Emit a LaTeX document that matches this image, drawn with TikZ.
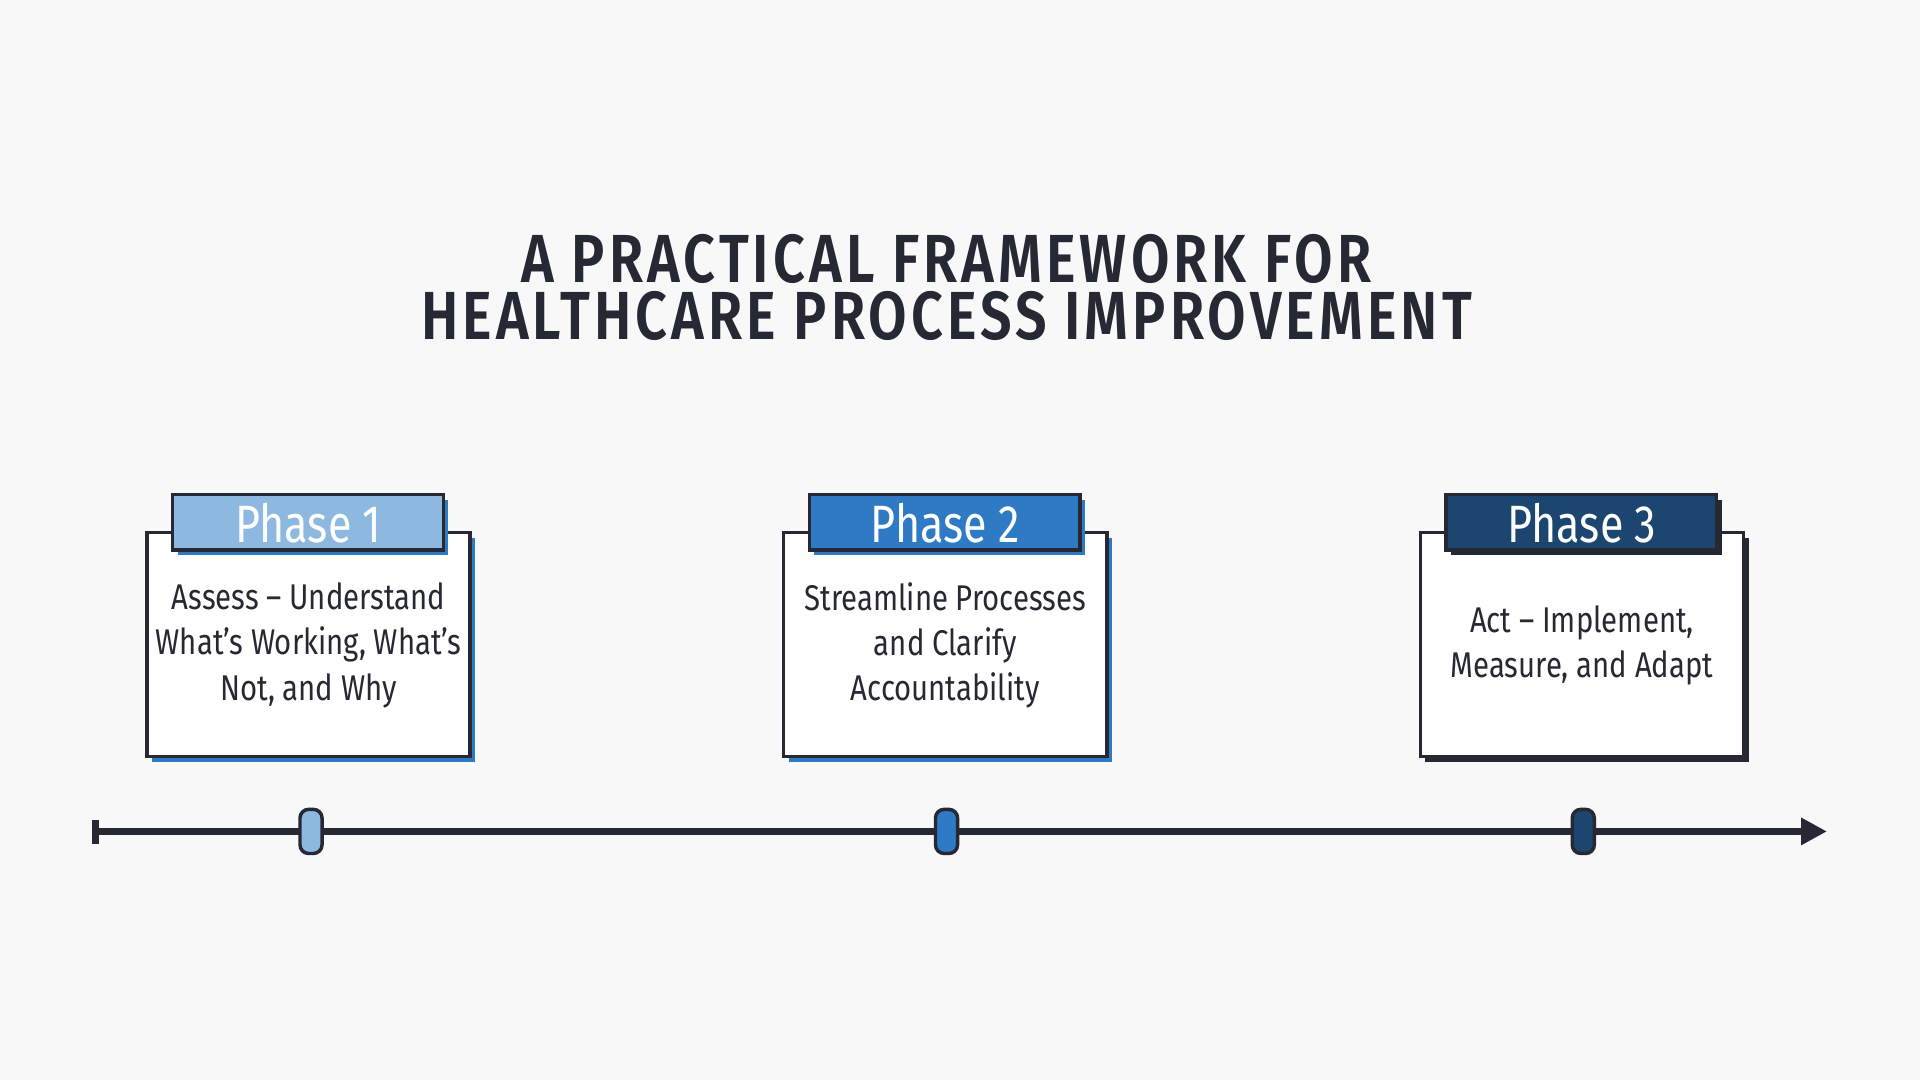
\documentclass[tikz,border=0pt]{standalone}
\usepackage{fontspec}
\setmainfont{Fira Sans}[FakeStretch=0.82]
\newfontfamily\titlefont{Fira Sans SemiBold}[FakeStretch=0.82,LetterSpace=6]
\usetikzlibrary{arrows.meta}
\definecolor{bg}{HTML}{F8F8F8}
\definecolor{ink}{HTML}{262833}
\definecolor{cA}{HTML}{8DB8E0}
\definecolor{cB}{HTML}{2E7AC4}
\definecolor{cC}{HTML}{1C4570}
\tikzset{
  body/.style={draw=ink,fill=white,line width=0.8pt},
  tab/.style={draw=ink,line width=0.8pt},
  btxt/.style={text=ink,font=\fontsize{8.3}{10.5}\selectfont,align=center},
  ptxt/.style={text=white,font=\fontsize{12.2}{14}\selectfont},
  tlmark/.style={draw=ink,line width=0.8pt,rounded corners=2pt,minimum width=0.18cm,minimum height=0.36cm,inner sep=0pt}
}
\begin{document}
\begin{tikzpicture}[x=0.01cm,y=-0.01cm]
\fill[bg] (0,0) rectangle (1568,882);
\useasboundingbox (0,0) rectangle (1568,882);
\node[text=ink,font=\titlefont\fontsize{15.8}{13.2}\selectfont,align=center] (title) at (773,235) {A PRACTICAL FRAMEWORK FOR\\HEALTHCARE PROCESS IMPROVEMENT};
\foreach \n/\x/\c/\s/\t in {1/252/cA/cB/{Assess -- Understand\\What’s Working, What’s\\Not, and Why},2/772/cB/cB/{Streamline Processes\\and Clarify\\Accountability},3/1292/cC/ink/{Act -- Implement,\\Measure, and Adapt}}{
  \fill[\s] (\x-128,439) rectangle (\x+136,622);
  \draw[body] (\x-132,435) rectangle (\x+132,618);
  \fill[\s] (\x-107,408) rectangle (\x+114,453);
  \draw[tab,fill=\c] (\x-111,404) rectangle (\x+110,449);
  \node[ptxt] (p\n) at (\x,427) {Phase \n};
  \node[btxt] (b\n) at (\x,527) {\t};
}
\coordinate (ls) at (78,679);
\coordinate (le) at (1492,679);
\draw[ink,line width=1.6pt,-{Triangle[length=6pt,width=6pt]}] (ls) -- (le);
\draw[ink,line width=1.4pt] (78,670) -- (78,689);
\node[tlmark,fill=cA] (m1) at (254,679) {};
\node[tlmark,fill=cB] (m2) at (773,679) {};
\node[tlmark,fill=cC] (m3) at (1293,679) {};
\end{tikzpicture}
\end{document}
